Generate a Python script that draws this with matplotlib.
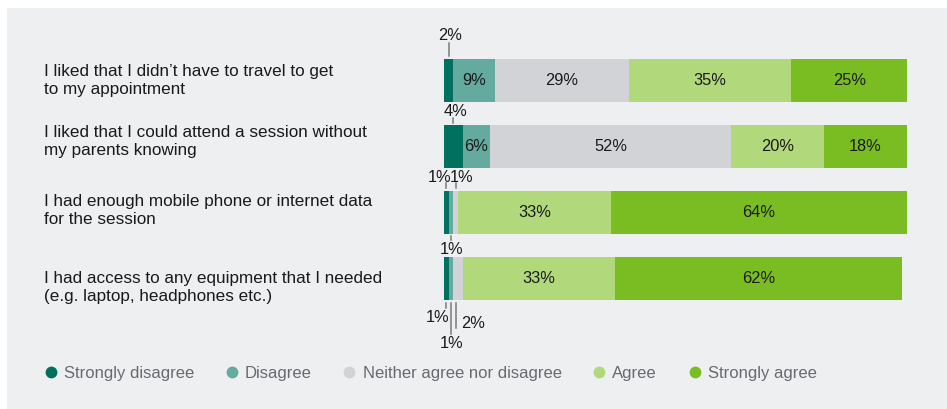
import numpy as np
import matplotlib.pyplot as plt
from matplotlib.lines import Line2D
from matplotlib.patches import Rectangle
from matplotlib.transforms import offset_copy, blended_transform_factory

plt.rcParams['font.family'] = ['Liberation Sans', 'DejaVu Sans']

# survey statements and answer shares (%)
statements = [
    "I liked that I didn\u2019t have to travel to get\nto my appointment",
    "I liked that I could attend a session without\nmy parents knowing",
    "I had enough mobile phone or internet data\nfor the session",
    "I had access to any equipment that I needed\n(e.g. laptop, headphones etc.)",
]
answers = ["Strongly disagree", "Disagree", "Neither agree nor disagree",
           "Agree", "Strongly agree"]
strongly_disagree = [2, 4, 1, 1]
disagree = [9, 6, 1, 1]
neither = [29, 52, 1, 2]
agree = [35, 20, 33, 33]
strongly_agree = [25, 18, 64, 62]

colors = ["#00705f", "#65aa9f", "#d2d3d6", "#b2d87c", "#7abd22"]
bg = "#eeeff1"
text_col = "#1a1a1a"
legend_col = "#676a71"
W, H = 947, 409

values = np.array([strongly_disagree, disagree, neither, agree, strongly_agree])

fig = plt.figure(figsize=(W / 100, H / 100), dpi=100)
fig.patch.set_facecolor("white")
fig.patches.append(Rectangle((7 / W, 0), 1, 1 - 8 / H, transform=fig.transFigure,
                             facecolor=bg, edgecolor="none", zorder=-10))

# bar area: 0-100% spans pixels 444..907, rows are 66 px apart
ax = fig.add_axes([444 / W, 0, 463 / W, 1])
ax.set_xlim(0, 100)
row_px, first_px = 66, 80.5
ax.set_ylim((H - first_px) / row_px, -first_px / row_px)
ax.axis("off")
ax.patch.set_alpha(0)

num_size = 11.8
bar_h = 43 / row_px
rows = np.arange(len(statements))
lefts = np.zeros(len(statements))
for k in range(len(answers)):
    ax.barh(rows, values[k], left=lefts, height=bar_h, color=colors[k],
            label=answers[k], zorder=2)
    for r in rows:
        v = values[k][r]
        if v >= 5:
            ax.text(lefts[r] + v / 2, r, f"{v}%", ha="center", va="center",
                    fontsize=num_size, color=text_col, zorder=3)
    lefts = lefts + values[k]

# small segments get an outside label with a leader line
# (row, segment, side, gap px, line length px, text dx px, text gap px, ha)
callouts = [
    (0, 0, "top", 3, 13, 1, 7, "center"),
    (1, 0, "top", 2, 5, 2, 6, "center"),
    (2, 0, "top", 3, 5, -7, 6, "center"),
    (2, 2, "top", 3, 5, 6, 6, "center"),
    (2, 1, "bottom", 2, 4, 1, 9, "center"),
    (3, 0, "bottom", 3, 5, -9, 10, "center"),
    (3, 1, "bottom", 3, 31, 1, 10, "center"),
    (3, 2, "bottom", 3, 25, 3, -4, "left"),
]
for r, k, side, gap, length, dx, tgap, ha in callouts:
    v = values[k][r]
    xc = values[:k, r].sum() + v / 2
    sign = 1 if side == "top" else -1
    edge = r - sign * bar_h / 2
    y0 = gap * sign
    y1 = (gap + length) * sign
    line_dx = -1.5 if (r == 3 and k == 2) else 0
    l0 = offset_copy(ax.transData, fig, x=line_dx, y=y0, units="dots")
    l1 = offset_copy(ax.transData, fig, x=line_dx, y=y1, units="dots")
    p0 = l0.transform((xc, edge))
    p1 = l1.transform((xc, edge))
    fig.add_artist(Line2D([p0[0], p1[0]], [p0[1], p1[1]], transform=None,
                          color="#7a7a7a", lw=1.1, zorder=3))
    tt = offset_copy(ax.transData, fig, x=dx, y=(gap + length + tgap) * sign,
                     units="dots")
    ax.text(xc, edge, f"{v}%", transform=tt, ha=ha, va="center",
            fontsize=num_size, color=text_col, clip_on=False)

# statement labels on the left
label_shift = [0, -5, -2, 9]
lab_tr = blended_transform_factory(fig.transFigure, ax.transData)
for r, s in enumerate(statements):
    ax.text(44 / W, r + label_shift[r] / row_px, s, transform=lab_tr,
            ha="left", va="center", fontsize=12.3, color=text_col,
            linespacing=1.18)

handles = [Line2D([], [], marker="o", linestyle="none", markersize=8.5,
                  markerfacecolor=c, markeredgecolor="none") for c in colors]
fig.legend(handles, answers, loc="center left",
           bbox_to_anchor=(38 / W, 1 - 373.5 / H), ncol=5, frameon=False,
           fontsize=12, labelcolor=legend_col, handlelength=0.7,
           handletextpad=0.45, columnspacing=1.9, borderaxespad=0)

fig.savefig("out.png", dpi=100, facecolor=fig.get_facecolor())
